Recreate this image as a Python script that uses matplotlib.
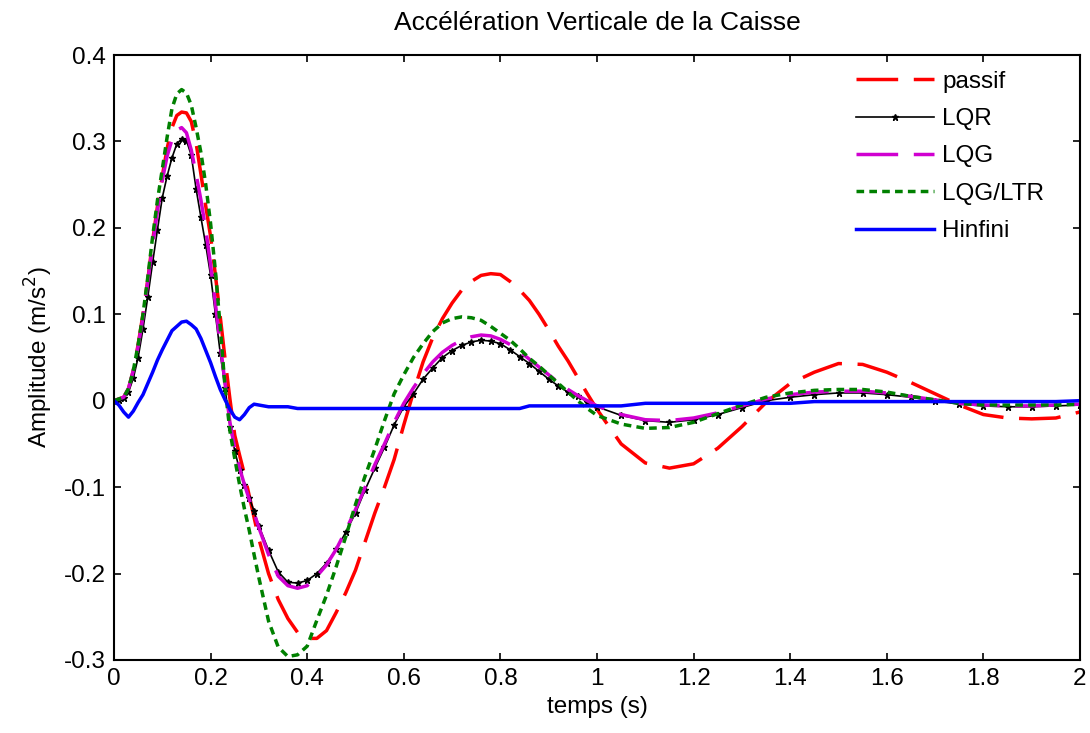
import matplotlib
matplotlib.use("Agg")
import matplotlib.pyplot as plt
from matplotlib.ticker import FuncFormatter

# time grid (s): fine at the start, coarser in the tail
t = [0.00, 0.01, 0.02, 0.03, 0.04, 0.05, 0.06, 0.07, 0.08, 0.09,
     0.10, 0.11, 0.12, 0.13, 0.14, 0.15, 0.16, 0.17, 0.18, 0.19,
     0.20, 0.21, 0.22, 0.23, 0.24, 0.25, 0.26, 0.27, 0.28, 0.29, 0.30,
     0.32, 0.34, 0.36, 0.38, 0.40, 0.42, 0.44, 0.46, 0.48, 0.50,
     0.52, 0.54, 0.56, 0.58, 0.60, 0.62, 0.64, 0.66, 0.68, 0.70,
     0.72, 0.74, 0.76, 0.78, 0.80, 0.82, 0.84, 0.86, 0.88, 0.90,
     0.92, 0.94, 0.96, 0.98, 1.00,
     1.05, 1.10, 1.15, 1.20, 1.25, 1.30, 1.35, 1.40, 1.45, 1.50,
     1.55, 1.60, 1.65, 1.70, 1.75, 1.80, 1.85, 1.90, 1.95, 2.00]

passif = [0, 0.002, 0.004, 0.014, 0.035, 0.065, 0.1, 0.14, 0.185, 0.225,
          0.26, 0.292, 0.316, 0.33, 0.334, 0.333, 0.323, 0.298, 0.262, 0.225,
          0.19, 0.145, 0.097, 0.048, 0.002, -0.04, -0.063, -0.085, -0.11, -0.135, -0.16,
          -0.2, -0.23, -0.252, -0.268, -0.275, -0.275, -0.266, -0.245, -0.222, -0.196,
          -0.163, -0.13, -0.1, -0.068, -0.028, 0.01, 0.045, 0.073, 0.095, 0.113,
          0.128, 0.138, 0.145, 0.147, 0.146, 0.138, 0.128, 0.116, 0.1, 0.082,
          0.063, 0.046, 0.027, 0.008, -0.01,
          -0.05, -0.072, -0.078, -0.073, -0.055, -0.03, -0.002, 0.02, 0.033, 0.043,
          0.042, 0.033, 0.021, 0.008, -0.005, -0.016, -0.02, -0.021, -0.02, -0.013]

lqr = [0, 0.001, 0.003, 0.01, 0.026, 0.05, 0.083, 0.12, 0.16, 0.198,
       0.235, 0.26, 0.281, 0.297, 0.303, 0.301, 0.284, 0.245, 0.212, 0.18,
       0.145, 0.1, 0.055, 0.015, -0.03, -0.058, -0.08, -0.097, -0.112, -0.128, -0.145,
       -0.173, -0.198, -0.21, -0.211, -0.208, -0.2, -0.188, -0.172, -0.152, -0.13,
       -0.103, -0.078, -0.054, -0.028, -0.007, 0.008, 0.025, 0.038, 0.05, 0.058,
       0.064, 0.068, 0.07, 0.069, 0.066, 0.059, 0.051, 0.043, 0.034, 0.025,
       0.017, 0.01, 0.005, -0.001, -0.007,
       -0.017, -0.023, -0.025, -0.022, -0.016, -0.008, 0.0, 0.004, 0.007, 0.009,
       0.009, 0.007, 0.004, 0.0, -0.004, -0.006, -0.007, -0.007, -0.006, -0.005]

lqg = [0, 0.002, 0.004, 0.014, 0.035, 0.063, 0.097, 0.138, 0.18, 0.22,
       0.255, 0.283, 0.302, 0.313, 0.316, 0.31, 0.29, 0.262, 0.232, 0.198,
       0.157, 0.112, 0.065, 0.02, -0.025, -0.055, -0.078, -0.097, -0.114, -0.13, -0.147,
       -0.178, -0.203, -0.214, -0.217, -0.214, -0.203, -0.19, -0.172, -0.15, -0.126,
       -0.1, -0.074, -0.05, -0.025, -0.003, 0.015, 0.031, 0.045, 0.056, 0.064,
       0.07, 0.074, 0.076, 0.075, 0.071, 0.065, 0.057, 0.048, 0.039, 0.03,
       0.021, 0.013, 0.006, 0.0, -0.006,
       -0.016, -0.022, -0.023, -0.02, -0.014, -0.006, 0.002, 0.007, 0.01, 0.011,
       0.011, 0.009, 0.005, 0.001, -0.003, -0.005, -0.006, -0.006, -0.005, -0.004]

lqg_ltr = [0, 0.002, 0.004, 0.014, 0.035, 0.065, 0.1, 0.143, 0.19, 0.232,
           0.268, 0.305, 0.338, 0.355, 0.36, 0.356, 0.342, 0.316, 0.287, 0.25,
           0.205, 0.15, 0.085, 0.015, -0.035, -0.067, -0.097, -0.125, -0.15, -0.178, -0.205,
           -0.255, -0.285, -0.296, -0.294, -0.284, -0.254, -0.225, -0.192, -0.157, -0.12,
           -0.087, -0.056, -0.023, 0.008, 0.03, 0.05, 0.066, 0.08, 0.09, 0.095,
           0.097, 0.096, 0.093, 0.086, 0.078, 0.07, 0.06, 0.049, 0.04, 0.03,
           0.02, 0.01, 0.0, -0.009, -0.017,
           -0.027, -0.032, -0.031, -0.025, -0.015, -0.005, 0.004, 0.009, 0.012, 0.013,
           0.013, 0.01, 0.005, 0.001, -0.003, -0.005, -0.005, -0.005, -0.005, -0.004]

hinfini = [0, -0.005, -0.013, -0.019, -0.012, -0.002, 0.007, 0.02, 0.033, 0.047,
           0.059, 0.07, 0.081, 0.086, 0.091, 0.092, 0.088, 0.083, 0.072, 0.058,
           0.044, 0.028, 0.013, 0.001, -0.01, -0.019, -0.022, -0.016, -0.008, -0.004, -0.005,
           -0.007, -0.007, -0.007, -0.009, -0.009, -0.009, -0.009, -0.009, -0.009, -0.009,
           -0.009, -0.009, -0.009, -0.009, -0.009, -0.009, -0.009, -0.009, -0.009, -0.009,
           -0.009, -0.009, -0.009, -0.009, -0.009, -0.009, -0.009, -0.006, -0.006, -0.006,
           -0.006, -0.006, -0.006, -0.006, -0.006,
           -0.006, -0.003, -0.003, -0.003, -0.003, -0.003, -0.003, -0.003, -0.001, -0.001,
           -0.001, -0.001, -0.001, -0.001, -0.001, -0.001, -0.001, -0.001, -0.001, 0.0]

labels = ['passif', 'LQR', 'LQG', 'LQG/LTR', 'Hinfini']

plt.rcParams['font.family'] = ['Liberation Sans', 'DejaVu Sans']
plt.rcParams['font.size'] = 17.5

fig = plt.figure(figsize=(10.9, 7.33), dpi=100)
ax = fig.add_axes([114 / 1090, 1 - 660 / 733, 966 / 1090, 605 / 733])

ax.plot(t, passif, color='#ff0000', lw=2.5, dashes=(12, 4.5), label=labels[0])
ax.plot(t, lqr, color='black', lw=1.2, marker='*', ms=5, label=labels[1])
ax.plot(t, lqg, color='#d000d0', lw=2.5, dashes=(12, 4.5), label=labels[2])
ax.plot(t, lqg_ltr, color='#008000', lw=2.5, dashes=(2.2, 1.5), label=labels[3])
ax.plot(t, hinfini, color='#0000ff', lw=2.5, label=labels[4])

ax.set_xlim(0, 2)
ax.set_ylim(-0.3, 0.4)
ax.set_xticks([0, 0.2, 0.4, 0.6, 0.8, 1.0, 1.2, 1.4, 1.6, 1.8, 2.0])
ax.set_yticks([-0.3, -0.2, -0.1, 0, 0.1, 0.2, 0.3, 0.4])
fmt = FuncFormatter(lambda v, pos: f"{v:g}" if abs(v) > 1e-9 else "0")
ax.xaxis.set_major_formatter(fmt)
ax.yaxis.set_major_formatter(fmt)
ax.tick_params(direction='in', length=5, width=1.2, top=True, right=True, pad=6)
for s in ax.spines.values():
    s.set_linewidth(1.5)

ax.set_title('Accélération Verticale de la Caisse', fontsize=19, pad=18)
ax.set_xlabel('temps (s)')
ax.set_ylabel('Amplitude (m/s$^2$)', labelpad=6)

ax.legend(loc='upper left', bbox_to_anchor=(0.768, 0.974), frameon=False,
          borderpad=0, borderaxespad=0, handlelength=3.2, handletextpad=0.35,
          labelspacing=0.63, numpoints=1)

fig.savefig('out.png', dpi=100)
